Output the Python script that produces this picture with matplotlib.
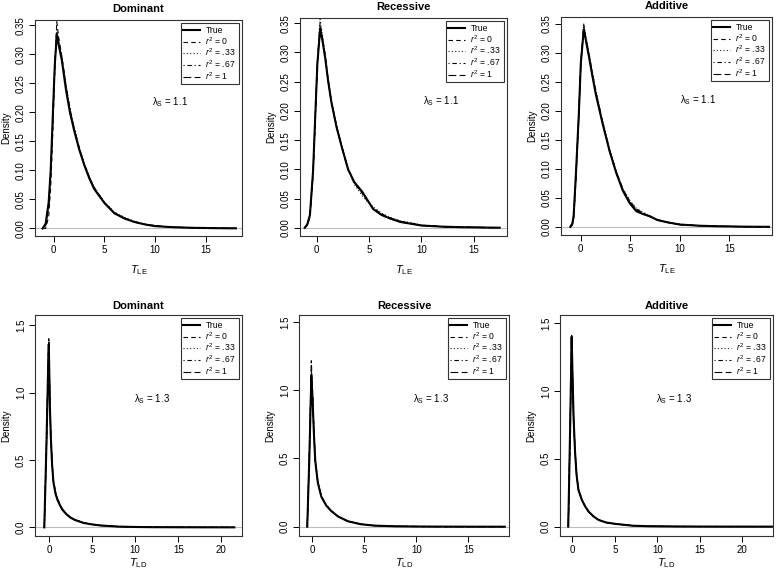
import matplotlib
matplotlib.use("Agg")
import matplotlib.pyplot as plt
from matplotlib.ticker import FormatStrFormatter

plt.rcParams['font.family'] = ['Liberation Sans', 'DejaVu Sans']
plt.rcParams['mathtext.fontset'] = 'custom'
plt.rcParams['mathtext.rm'] = 'Liberation Sans'
plt.rcParams['mathtext.it'] = 'Liberation Sans:italic'
plt.rcParams['mathtext.bf'] = 'Liberation Sans:bold'

# ---------------- data ----------------
titles = ["Dominant", "Recessive", "Additive", "Dominant", "Recessive", "Additive"]
xlabels = [r"$T_{\mathrm{LE}}$"] * 3 + [r"$T_{\mathrm{LD}}$"] * 3
lambda_labels = [r"$\mathrm{\lambda_S}$ = 1.1"] * 3 + [r"$\mathrm{\lambda_S}$ = 1.3"] * 3
series_labels = ["True", r"$r^{2}$ = 0", r"$r^{2}$ = .33", r"$r^{2}$ = .67", r"$r^{2}$ = 1"]

# Panel 1: Dominant, T_LE
x1 = [-1.1, -0.8, -0.5, -0.3, -0.1, 0.1, 0.3, 0.5, 0.8, 1.2, 1.6, 2.0, 2.5, 3.0, 3.5,
      4.0, 5.0, 6.0, 7.0, 8.0, 9.0, 10.0, 11.0, 12.0, 13.0, 14.0, 15.0, 16.0, 17.0, 18.0]
p1_true = [0.000, 0.008, 0.045, 0.100, 0.190, 0.280, 0.334, 0.315, 0.290, 0.240, 0.200, 0.170, 0.137, 0.110, 0.087,
           0.068, 0.044, 0.026, 0.017, 0.011, 0.007, 0.004, 0.003, 0.002, 0.0015, 0.001, 0.0008, 0.0005, 0.0003, 0.0002]
p1_r0 = [0.000, 0.000, 0.020, 0.070, 0.160, 0.270, 0.356, 0.328, 0.296, 0.246, 0.204, 0.173, 0.140, 0.112, 0.089,
         0.070, 0.045, 0.027, 0.018, 0.011, 0.007, 0.005, 0.003, 0.002, 0.0015, 0.001, 0.0008, 0.0005, 0.0003, 0.0002]
p1_r33 = [0.000, 0.004, 0.035, 0.090, 0.180, 0.278, 0.345, 0.324, 0.298, 0.250, 0.208, 0.176, 0.142, 0.113, 0.090,
          0.071, 0.046, 0.028, 0.019, 0.012, 0.007, 0.005, 0.003, 0.002, 0.0015, 0.001, 0.0008, 0.0005, 0.0003, 0.0002]
p1_r67 = [0.000, 0.005, 0.038, 0.092, 0.182, 0.276, 0.340, 0.320, 0.294, 0.247, 0.206, 0.174, 0.140, 0.112, 0.089,
          0.070, 0.045, 0.027, 0.018, 0.012, 0.007, 0.005, 0.003, 0.002, 0.0015, 0.001, 0.0008, 0.0005, 0.0003, 0.0002]
p1_r1 = [0.000, 0.006, 0.040, 0.095, 0.185, 0.278, 0.338, 0.318, 0.292, 0.244, 0.203, 0.172, 0.139, 0.111, 0.088,
         0.069, 0.044, 0.026, 0.018, 0.011, 0.007, 0.004, 0.003, 0.002, 0.0015, 0.001, 0.0008, 0.0005, 0.0003, 0.0002]

# Panel 2: Recessive, T_LE
x2 = [-1.15, -0.9, -0.65, -0.35, -0.13, 0.06, 0.32, 0.55, 0.8, 1.1, 1.4, 1.9, 2.4, 3.0, 3.6,
      4.3, 4.8, 5.4, 6.2, 7.0, 8.0, 9.0, 10.0, 11.0, 12.0, 13.0, 14.0, 15.0, 16.0, 17.5]
p2_true = [0.000, 0.006, 0.022, 0.097, 0.196, 0.280, 0.340, 0.320, 0.292, 0.250, 0.215, 0.172, 0.138, 0.100, 0.078,
           0.063, 0.049, 0.032, 0.022, 0.016, 0.010, 0.007, 0.004, 0.003, 0.002, 0.0015, 0.001, 0.0008, 0.0005, 0.0002]
p2_r0 = [0.000, 0.004, 0.018, 0.090, 0.190, 0.282, 0.350, 0.326, 0.296, 0.252, 0.217, 0.174, 0.139, 0.101, 0.076,
         0.060, 0.047, 0.034, 0.024, 0.017, 0.011, 0.008, 0.004, 0.003, 0.002, 0.0015, 0.001, 0.0008, 0.0005, 0.0002]
p2_r33 = [0.000, 0.005, 0.020, 0.094, 0.195, 0.285, 0.357, 0.330, 0.298, 0.254, 0.218, 0.175, 0.140, 0.099, 0.074,
          0.056, 0.046, 0.036, 0.025, 0.018, 0.012, 0.009, 0.005, 0.003, 0.002, 0.0015, 0.001, 0.0008, 0.0005, 0.0002]
p2_r67 = [0.000, 0.005, 0.021, 0.095, 0.194, 0.281, 0.345, 0.324, 0.295, 0.251, 0.216, 0.173, 0.139, 0.100, 0.077,
          0.061, 0.048, 0.033, 0.023, 0.017, 0.011, 0.008, 0.004, 0.003, 0.002, 0.0015, 0.001, 0.0008, 0.0005, 0.0002]
p2_r1 = [0.000, 0.006, 0.022, 0.096, 0.195, 0.280, 0.342, 0.322, 0.293, 0.250, 0.215, 0.172, 0.138, 0.100, 0.078,
         0.062, 0.048, 0.032, 0.022, 0.016, 0.010, 0.007, 0.004, 0.003, 0.002, 0.0015, 0.001, 0.0008, 0.0005, 0.0002]

# Panel 3: Additive, T_LE
x3 = [-1.06, -0.85, -0.72, -0.48, -0.2, 0.0, 0.3, 0.55, 0.82, 1.15, 1.5, 2.2, 2.9, 3.56, 4.25, 4.93,
      5.6, 6.3, 7.0, 7.7, 8.7, 10.0, 11.0, 12.0, 13.0, 14.0, 15.0, 16.0, 17.0, 18.0, 19.0]
p3_true = [0.000, 0.006, 0.020, 0.096, 0.195, 0.282, 0.341, 0.318, 0.294, 0.262, 0.230, 0.178, 0.131, 0.094, 0.062, 0.041,
           0.027, 0.022, 0.018, 0.012, 0.008, 0.004, 0.003, 0.002, 0.0015, 0.001, 0.0008, 0.0005, 0.0003, 0.0002, 0.0001]
p3_r0 = [0.000, 0.003, 0.014, 0.085, 0.188, 0.282, 0.348, 0.322, 0.298, 0.266, 0.234, 0.181, 0.133, 0.096, 0.065, 0.045,
         0.031, 0.024, 0.018, 0.012, 0.008, 0.004, 0.003, 0.002, 0.0015, 0.001, 0.0008, 0.0005, 0.0003, 0.0002, 0.0001]
p3_r33 = [0.000, 0.004, 0.016, 0.088, 0.190, 0.284, 0.350, 0.326, 0.302, 0.270, 0.238, 0.184, 0.135, 0.097, 0.066, 0.046,
          0.032, 0.025, 0.019, 0.013, 0.008, 0.005, 0.003, 0.002, 0.0015, 0.001, 0.0008, 0.0005, 0.0003, 0.0002, 0.0001]
p3_r67 = [0.000, 0.005, 0.018, 0.092, 0.193, 0.283, 0.344, 0.320, 0.296, 0.264, 0.232, 0.180, 0.132, 0.095, 0.064, 0.043,
          0.030, 0.023, 0.018, 0.012, 0.008, 0.004, 0.003, 0.002, 0.0015, 0.001, 0.0008, 0.0005, 0.0003, 0.0002, 0.0001]
p3_r1 = [0.000, 0.005, 0.019, 0.094, 0.194, 0.282, 0.342, 0.319, 0.295, 0.263, 0.231, 0.179, 0.131, 0.094, 0.063, 0.042,
         0.029, 0.022, 0.018, 0.012, 0.008, 0.004, 0.003, 0.002, 0.0015, 0.001, 0.0008, 0.0005, 0.0003, 0.0002, 0.0001]

# Panel 4: Dominant, T_LD
x4 = [-0.55, -0.3, -0.1, -0.03, 0.1, 0.2, 0.35, 0.5, 0.75, 1.0, 1.5, 2.0, 2.5, 3.0, 4.0, 5.0,
      6.0, 8.0, 10.0, 12.0, 15.0, 18.0, 21.5]
p4_true = [0.00, 0.62, 1.20, 1.36, 0.90, 0.68, 0.47, 0.34, 0.25, 0.200, 0.135, 0.098, 0.072, 0.055, 0.033, 0.022,
           0.014, 0.006, 0.003, 0.0015, 0.0008, 0.0004, 0.0002]
p4_r0 = [0.00, 0.60, 1.22, 1.40, 0.93, 0.70, 0.48, 0.35, 0.26, 0.205, 0.140, 0.100, 0.074, 0.056, 0.034, 0.022,
         0.014, 0.006, 0.003, 0.0015, 0.0008, 0.0004, 0.0002]
p4_r33 = [0.00, 0.61, 1.21, 1.38, 0.92, 0.69, 0.48, 0.35, 0.26, 0.210, 0.140, 0.102, 0.075, 0.057, 0.035, 0.023,
          0.015, 0.006, 0.003, 0.0015, 0.0008, 0.0004, 0.0002]
p4_r67 = [0.00, 0.61, 1.20, 1.37, 0.91, 0.69, 0.47, 0.35, 0.255, 0.205, 0.138, 0.100, 0.073, 0.056, 0.034, 0.022,
          0.014, 0.006, 0.003, 0.0015, 0.0008, 0.0004, 0.0002]
p4_r1 = [0.00, 0.60, 1.21, 1.39, 0.92, 0.70, 0.48, 0.35, 0.26, 0.208, 0.139, 0.101, 0.074, 0.056, 0.034, 0.022,
         0.014, 0.006, 0.003, 0.0015, 0.0008, 0.0004, 0.0002]

# Panel 5: Recessive, T_LD
x5 = [-0.45, -0.25, -0.06, 0.05, 0.19, 0.32, 0.57, 0.9, 1.37, 1.85, 2.5, 3.44, 4.7, 6.0,
      8.0, 10.0, 12.0, 15.0, 18.5]
p5_true = [0.00, 0.50, 1.09, 0.95, 0.68, 0.48, 0.32, 0.220, 0.155, 0.115, 0.075, 0.040, 0.018, 0.008,
           0.003, 0.0015, 0.0008, 0.0003, 0.0001]
p5_r0 = [0.00, 0.52, 1.215, 1.02, 0.70, 0.49, 0.33, 0.225, 0.158, 0.117, 0.076, 0.041, 0.018, 0.008,
         0.003, 0.0015, 0.0008, 0.0003, 0.0001]
p5_r33 = [0.00, 0.51, 1.15, 0.99, 0.69, 0.49, 0.325, 0.222, 0.160, 0.118, 0.077, 0.042, 0.019, 0.008,
          0.003, 0.0015, 0.0008, 0.0003, 0.0001]
p5_r67 = [0.00, 0.51, 1.18, 1.00, 0.69, 0.48, 0.325, 0.221, 0.157, 0.116, 0.076, 0.041, 0.018, 0.008,
          0.003, 0.0015, 0.0008, 0.0003, 0.0001]
p5_r1 = [0.00, 0.50, 1.12, 0.97, 0.68, 0.48, 0.32, 0.220, 0.156, 0.116, 0.075, 0.040, 0.018, 0.008,
         0.003, 0.0015, 0.0008, 0.0003, 0.0001]

# Panel 6: Additive, T_LD
x6 = [-0.48, -0.25, -0.08, 0.05, 0.15, 0.32, 0.5, 0.72, 1.12, 1.5, 1.92, 2.5, 3.1, 4.0, 5.1,
      7.1, 9.0, 12.0, 15.0, 19.0, 23.5]
p6_true = [0.00, 0.75, 1.40, 1.05, 0.80, 0.55, 0.38, 0.27, 0.197, 0.150, 0.110, 0.075, 0.049, 0.030, 0.020,
           0.007, 0.003, 0.0012, 0.0006, 0.0003, 0.0001]
p6_r0 = [0.00, 0.74, 1.38, 1.06, 0.81, 0.56, 0.39, 0.275, 0.200, 0.152, 0.112, 0.076, 0.050, 0.031, 0.020,
         0.007, 0.003, 0.0012, 0.0006, 0.0003, 0.0001]
p6_r33 = [0.00, 0.74, 1.39, 1.05, 0.80, 0.56, 0.385, 0.272, 0.199, 0.151, 0.111, 0.076, 0.050, 0.030, 0.020,
          0.007, 0.003, 0.0012, 0.0006, 0.0003, 0.0001]
p6_r67 = [0.00, 0.75, 1.40, 1.05, 0.80, 0.55, 0.38, 0.270, 0.198, 0.150, 0.110, 0.075, 0.049, 0.030, 0.020,
          0.007, 0.003, 0.0012, 0.0006, 0.0003, 0.0001]
p6_r1 = [0.00, 0.75, 1.41, 1.04, 0.79, 0.55, 0.38, 0.270, 0.196, 0.149, 0.110, 0.075, 0.049, 0.030, 0.020,
         0.007, 0.003, 0.0012, 0.0006, 0.0003, 0.0001]

xs = [x1, x2, x3, x4, x5, x6]
ys = [
    [p1_true, p1_r0, p1_r33, p1_r67, p1_r1],
    [p2_true, p2_r0, p2_r33, p2_r67, p2_r1],
    [p3_true, p3_r0, p3_r33, p3_r67, p3_r1],
    [p4_true, p4_r0, p4_r33, p4_r67, p4_r1],
    [p5_true, p5_r0, p5_r33, p5_r67, p5_r1],
    [p6_true, p6_r0, p6_r33, p6_r67, p6_r1],
]
xticks_list = [[0, 5, 10, 15]] * 3 + [[0, 5, 10, 15, 20], [0, 5, 10, 15], [0, 5, 10, 15, 20]]
yticks_top = [0.00, 0.05, 0.10, 0.15, 0.20, 0.25, 0.30, 0.35]
yticks_bot = [0.0, 0.5, 1.0, 1.5]

# ---------------- layout / style ----------------
W, H = 776, 576
boxes_px = [  # left, top, right, bottom in pixels
    (35, 20, 242, 236), (300, 18, 507, 236), (561, 17, 772, 235),
    (35, 315, 242, 536), (299, 315, 509, 536), (560, 315, 773, 536),
]
xlims = [(-1.85, 18.6), (-1.6, 18.2), (-2.0, 19.3), (-1.63, 22.4), (-1.24, 18.9), (-1.45, 23.6)]
ylims = [(-0.013, 0.359), (-0.014, 0.359), (-0.014, 0.362), (-0.064, 1.576), (-0.068, 1.55), (-0.069, 1.56)]
lam_pos = [(0.65, 0.62), (0.68, 0.62), (0.65, 0.62), (0.565, 0.62), (0.63, 0.62), (0.535, 0.62)]
xlabel_pads = [6, 6, 6, 1, 1, 1]
title_pads = [6, 6, 6, 4, 4, 4]
styles = [
    dict(ls='-', lw=1.5, color='black'),
    dict(ls=(0, (4, 3)), lw=0.8, color='black'),
    dict(ls=(0, (1, 2)), lw=0.8, color='#222222'),
    dict(ls=(0, (1, 2.5, 4, 2.5)), lw=0.8, color='black'),
    dict(ls=(0, (7, 3)), lw=0.8, color='black'),
]

fig = plt.figure(figsize=(W / 100, H / 100), dpi=100)

for i in range(6):
    l, t, r, b = boxes_px[i]
    ax = fig.add_axes([l / W, (H - b) / H, (r - l) / W, (b - t) / H])
    ax.axhline(0, color='#bdbdbd', lw=0.8, zorder=0)
    handles = []
    for j in range(5):
        h, = ax.plot(xs[i], ys[i][j], label=series_labels[j], **styles[j])
        handles.append(h)
    ax.set_xlim(*xlims[i])
    ax.set_ylim(*ylims[i])
    ax.set_xticks(xticks_list[i])
    if i < 3:
        ax.set_yticks(yticks_top)
        ax.yaxis.set_major_formatter(FormatStrFormatter('%.2f'))
    else:
        ax.set_yticks(yticks_bot)
        ax.yaxis.set_major_formatter(FormatStrFormatter('%.1f'))
    ax.tick_params(axis='both', direction='out', length=4, width=0.7, labelsize=7, pad=2.5)
    for lab in ax.get_yticklabels():
        lab.set_rotation(90)
        lab.set_va('center')
    for sp in ax.spines.values():
        sp.set_linewidth(0.8)
        sp.set_color('#333333')
    ax.set_title(titles[i], fontsize=8, fontweight='bold', pad=title_pads[i])
    ax.set_xlabel(xlabels[i], fontsize=8, labelpad=xlabel_pads[i])
    ax.set_ylabel("Density", fontsize=7, labelpad=3.5)
    ax.text(lam_pos[i][0], lam_pos[i][1], lambda_labels[i], transform=ax.transAxes,
            fontsize=7, ha='center', va='center')
    leg = ax.legend(handles=handles, loc='upper right', fontsize=6.2, frameon=True, fancybox=False,
                    framealpha=1, edgecolor='#333333', borderpad=0.3, labelspacing=0.0,
                    handlelength=2.0, handletextpad=0.6, borderaxespad=0.4)
    leg.get_frame().set_linewidth(0.8)

fig.savefig("out.png", dpi=100)
